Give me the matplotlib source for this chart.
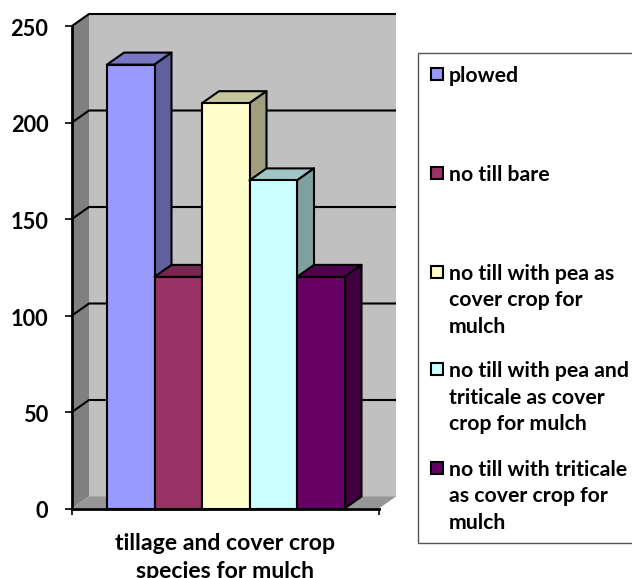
"""Pseudo-3D column chart: tillage and cover crop species for mulch."""
import matplotlib
matplotlib.use("Agg")
import matplotlib.pyplot as plt
from matplotlib.patches import Polygon, Rectangle
from matplotlib.transforms import ScaledTranslation

plt.rcParams["font.family"] = ["Lato", "DejaVu Sans"]

treatments = ["plowed", "no till bare", "no till with pea as\ncover crop for\nmulch",
              "no till with pea and\ntriticale as cover\ncrop for mulch",
              "no till with triticale\nas cover crop for\nmulch"]
values = [230, 120, 210, 170, 120]
colors = ["#9999FF", "#993366", "#FFFFCC", "#CCFFFF", "#660066"]
top_colors = ["#7777C6", "#772850", "#C6C69E", "#9EC6C6", "#4F004F"]
side_colors = ["#60609F", "#602040", "#9F9F80", "#80A0A0", "#400040"]
y_ticks = [0, 50, 100, 150, 200, 250]
x_label = "tillage and cover crop\nspecies for mulch"
legend_y = [75, 174, 299.5, 396.5, 495.5]  # pixel centre of each legend entry

W, H = 632, 578
fig = plt.figure(figsize=(W / 100, H / 100), dpi=100)

# axes = the front plane of the 3D box
left, right, bottom, top = 72, 379, 508.5, 26
ax = fig.add_axes([left / W, 1 - bottom / H, (right - left) / W, (bottom - top) / H])
bar_px = 47.5
ax.set_xlim((left - 107) / bar_px - 0.5, (right - 107) / bar_px - 0.5)
ax.set_ylim(0, 250)
ax.patch.set_visible(False)

# depth of the box in data units
dx = 17 / bar_px
dy = 12 / (bottom - top) * 250
x0, x1 = ax.get_xlim()


def poly(points, color, lw=0.0, z=1):
    ax.add_patch(Polygon(points, closed=True, facecolor=color, edgecolor="black" if lw else color,
                         linewidth=lw, joinstyle="round", clip_on=False, zorder=z))


# walls
poly([(x0 + dx, dy), (x1 + dx, dy), (x1 + dx, 250 + dy), (x0 + dx, 250 + dy)], "#C0C0C0")
poly([(x0, 0), (x0 + dx, dy), (x0 + dx, 250 + dy), (x0, 250)], "#808080")
poly([(x0, 0), (x1, 0), (x1 + dx, dy), (x0 + dx, dy)], "#969696")

# gridlines run along the side wall and the back wall
for v in y_ticks[1:]:
    ax.plot([x0, x0 + dx, x1 + dx], [v, v + dy, v + dy], color="black", lw=1.5,
            clip_on=False, zorder=2, solid_capstyle="butt")

for i, (v, c, tc, sc) in enumerate(zip(values, colors, top_colors, side_colors)):
    a, b = i - 0.5, i + 0.5
    z = 3 + i
    poly([(a, v), (b, v), (b + dx, v + dy), (a + dx, v + dy)], tc, 1.5, z)
    poly([(b, 0), (b + dx, dy), (b + dx, v + dy), (b, v)], sc, 1.5, z)
    ax.bar(i, v, width=1, color=c, edgecolor="black", linewidth=1.5, zorder=z)

for side in ["top", "right"]:
    ax.spines[side].set_visible(False)
for side in ["left", "bottom"]:
    ax.spines[side].set_linewidth(2)
    ax.spines[side].set_zorder(10)

ax.set_yticks(y_ticks)
ax.set_xticks([x0, x1])
ax.set_xticklabels([])
ax.tick_params(axis="y", length=5, width=1.2, pad=12, labelsize=15.7)
ax.tick_params(axis="x", length=4.3, width=1.2)
# tick labels sit a little below their ticks
shift = ScaledTranslation(0, -1.5 / 100, fig.dpi_scale_trans)
for lab in ax.get_yticklabels():
    lab.set_fontweight("bold")
    lab.set_transform(lab.get_transform() + shift)

fig.text(225 / W, 1 - 557.5 / H, x_label, ha="center", va="center", fontsize=16.6,
         fontweight="bold", linespacing=1.38)

# legend, built by hand for its uneven spacing
fig.add_artist(Rectangle((418 / W, 1 - 543 / H), 240 / W, 490 / H, transform=fig.transFigure,
                         facecolor="white", edgecolor="#555555", linewidth=1))
for name, c, y in zip(treatments, colors, legend_y):
    n = name.count("\n")
    first = y - n * 13.5 - 1
    fig.add_artist(Rectangle((430.5 / W, 1 - (first + 6) / H), 12 / W, 12 / H,
                             transform=fig.transFigure, facecolor=c, edgecolor="black", linewidth=1.5))
    fig.text(449 / W, 1 - (y + 1) / H, name, ha="left", va="center", fontsize=15.3, fontweight="bold",
             linespacing=1.38)

fig.savefig("out.png", dpi=100)
plt.close(fig)
